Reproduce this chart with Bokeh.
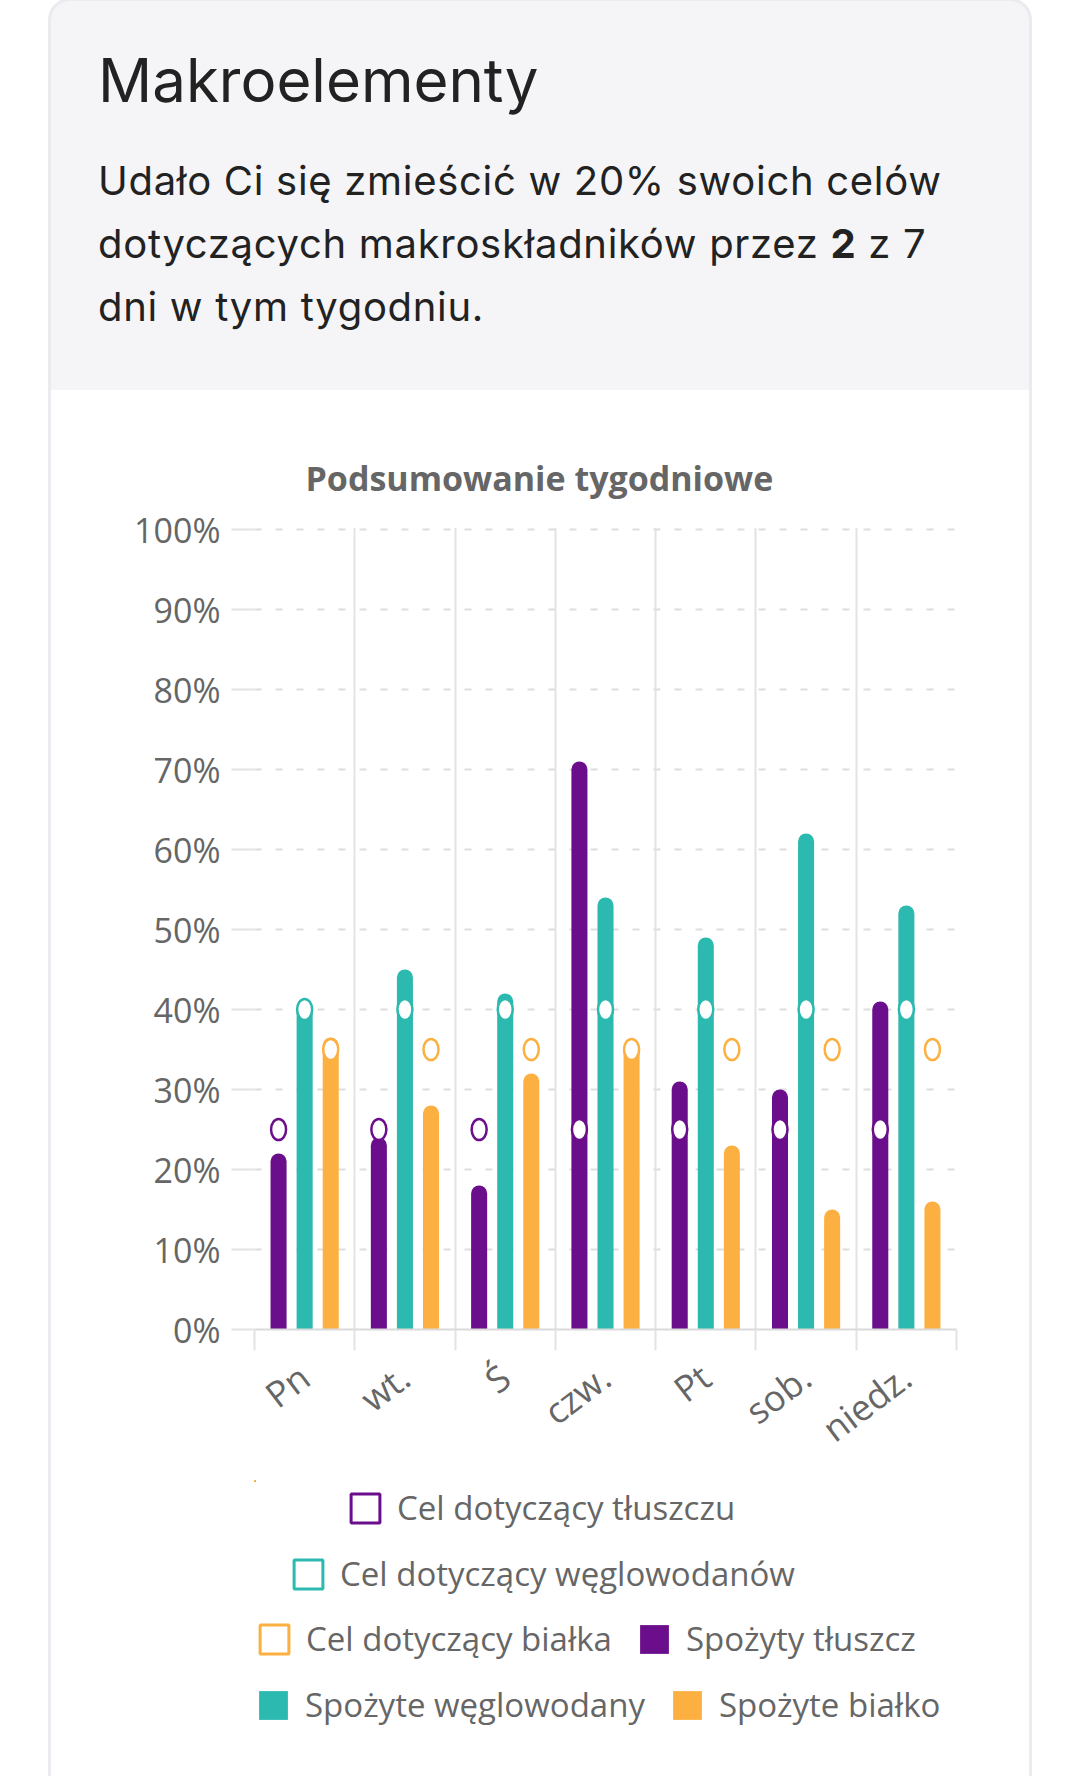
from bokeh.plotting import figure
from bokeh.models import (ColumnDataSource, Range1d, LinearAxis, FixedTicker, Grid,
                          Legend, LegendItem, Title, Div, PrintfTickFormatter)
from bokeh.transform import dodge
from bokeh.layouts import column
from bokeh.embed import file_html
from bokeh.resources import INLINE
from bokeh.core.properties import value

# ---------------- data ----------------
days = ["Pn", "wt.", "Ś", "czw.", "Pt", "sob.", "niedz."]
fat_eaten = [22, 24, 18, 71, 31, 30, 41]
carbs_eaten = [41, 45, 42, 54, 49, 62, 53]
protein_eaten = [36.5, 28, 32, 36, 23, 15, 16]
fat_goal = [25, 25, 25, 25, 25, 25, 25]
carbs_goal = [40, 40, 40, 40, 40, 40, 40]
protein_goal = [35, 35, 35, 35, 35, 35, 35]
y_ticks = [0, 10, 20, 30, 40, 50, 60, 70, 80, 90, 100]

header_title = "Makroelementy"
header_lines = ["Udało Ci się zmieścić w 20% swoich celów",
                "dotyczących makroskładników przez ", "2", " z 7",
                "dni w tym tygodniu."]
chart_title = "Podsumowanie tygodniowe"
legend_labels = ["Cel dotyczący tłuszczu", "Cel dotyczący węglowodanów",
                 "Cel dotyczący białka", "Spożyty tłuszcz",
                 "Spożyte węglowodany", "Spożyte białko"]

# ---------------- style ----------------
PURPLE = "#6B0E8B"
TEAL = "#2CB9AF"
ORANGE = "#FCB041"
GRID = "#E3E3E3"
TXT = "#666666"
FONT = "Open Sans"
CARD = "#EBEBEF"
SHADOW = {"box-shadow": f"-3px 0 0 0 {CARD}, 3px 0 0 0 {CARD}"}

# ---------------- header ----------------
header_html = (
    '<div style="position:absolute; left:48px; top:-2px; width:984px; height:392px;'
    f' box-sizing:border-box; background:#F5F5F7; border:3px solid {CARD}; border-bottom:none;'
    ' border-radius:22px 22px 0 0; font-family:Inter, sans-serif; color:#222;">'
    f'<div style="position:absolute; left:47px; top:49px; font-size:60px; line-height:60px; white-space:nowrap;">{header_title}</div>'
    '<div style="position:absolute; left:47px; top:148px; font-size:40px; line-height:63px; letter-spacing:0.7px; white-space:nowrap;">'
    f'{header_lines[0]}<br>{header_lines[1]}<b>{header_lines[2]}</b>{header_lines[3]}<br>{header_lines[4]}</div>'
    '</div>'
)
div = Div(text=header_html, width=1080, height=390, margin=0)

# ---------------- chart ----------------
n = len(days)
centers = [i + 0.5 for i in range(n)]
edges = list(range(n + 1))
src = ColumnDataSource(dict(pos=centers, fat=fat_eaten, carbs=carbs_eaten, protein=protein_eaten,
                            fat_goal=fat_goal, carbs_goal=carbs_goal, protein_goal=protein_goal))

p = figure(x_range=Range1d(0, n), y_range=Range1d(0, 100.25), width=978, height=1090,
           output_backend="svg", toolbar_location=None, x_axis_location=None,
           min_border_left=203, min_border_right=73, min_border_top=137, min_border_bottom=151)
p.margin = (0, 0, 0, 51)
p.styles = SHADOW
p.background_fill_color = "white"
p.border_fill_color = "white"
p.outline_line_color = None
p.xgrid.visible = False

p.add_layout(Title(text=chart_title, align="left", offset=51, standoff=53,
                   text_font=FONT, text_font_size="34px", text_font_style="bold",
                   text_color=TXT), "above")

# y axis
yax = p.yaxis[0]
yax.ticker = FixedTicker(ticks=y_ticks)
yax.formatter = PrintfTickFormatter(format="%d%%")
yax.axis_line_color = None
yax.major_tick_in = 0
yax.major_tick_out = 23
yax.major_tick_line_color = GRID
yax.major_tick_line_width = 2
yax.minor_tick_line_color = None
yax.major_label_standoff = 11
yax.major_label_text_font = FONT
yax.major_label_text_font_size = "34px"
yax.major_label_text_color = TXT
p.ygrid.ticker = yax.ticker
p.ygrid.grid_line_color = "#DDDDDD"
p.ygrid.grid_line_width = 2
p.ygrid.grid_line_dash = "7 14"

# x axis: day labels at centres, boundary ticks as minor ticks
day_axis = LinearAxis(ticker=FixedTicker(ticks=centers, minor_ticks=edges),
                      major_label_overrides={c: d for c, d in zip(centers, days)},
                      major_label_orientation=0.65,
                      major_tick_line_color=None, major_tick_in=0, major_tick_out=21,
                      minor_tick_line_color=GRID, minor_tick_line_width=2,
                      minor_tick_in=0, minor_tick_out=21,
                      axis_line_color="#DADADA", axis_line_width=2,
                      major_label_standoff=22,
                      major_label_text_font=FONT, major_label_text_font_size="36px",
                      major_label_text_color=TXT)
p.add_layout(day_axis, "below")
p.add_layout(Grid(dimension=0, ticker=FixedTicker(ticks=edges),
                  grid_line_color=GRID, grid_line_width=2))

# bars
OFF = 0.26
BW = 0.16
p.vbar(x=dodge("pos", -OFF), top="fat", bottom=0, width=BW, source=src,
       fill_color=PURPLE, line_color=None, border_radius=(8, 8, 0, 0))
p.vbar(x=dodge("pos", 0), top="carbs", bottom=0, width=BW, source=src,
       fill_color=TEAL, line_color=None, border_radius=(8, 8, 0, 0))
p.vbar(x=dodge("pos", OFF), top="protein", bottom=0, width=BW, source=src,
       fill_color=ORANGE, line_color=None, border_radius=(8, 8, 0, 0))

# goal markers
for off, col, c in [(-OFF, "fat_goal", PURPLE), (0, "carbs_goal", TEAL), (OFF, "protein_goal", ORANGE)]:
    p.ellipse(x=dodge("pos", off), y=col, width=15, height=21,
              width_units="screen", height_units="screen", source=src,
              fill_color="white", line_color=c, line_width=2.5)

# ---------------- legend (own figure below the chart) ----------------
# ranges chosen so the swatch series lie far outside the visible area
lf = figure(x_range=Range1d(1000, 1000 + n), y_range=Range1d(-2000, -1999), width=978, height=296,
            output_backend="svg", toolbar_location=None,
            x_axis_location=None, y_axis_location=None,
            min_border_left=203, min_border_right=73, min_border_top=0, min_border_bottom=0)
lf.margin = (0, 0, 0, 51)
lf.styles = SHADOW
lf.grid.visible = False
lf.outline_line_color = None
lf.background_fill_color = "white"
lf.border_fill_color = "white"

l_fat = lf.vbar(x=dodge("pos", -OFF), top="fat", bottom=0, width=BW, source=src,
                fill_color=PURPLE, line_color=None)
l_carb = lf.vbar(x=dodge("pos", 0), top="carbs", bottom=0, width=BW, source=src,
                 fill_color=TEAL, line_color=None)
l_prot = lf.vbar(x=dodge("pos", OFF), top="protein", bottom=0, width=BW, source=src,
                 fill_color=ORANGE, line_color=None)
lg_fat = lf.vbar(x=dodge("pos", -OFF), top="fat_goal", bottom=0, width=BW, source=src,
                 fill_color="white", line_color=PURPLE, line_width=3)
lg_carb = lf.vbar(x=dodge("pos", 0), top="carbs_goal", bottom=0, width=BW, source=src,
                  fill_color="white", line_color=TEAL, line_width=3)
lg_prot = lf.vbar(x=dodge("pos", OFF), top="protein_goal", bottom=0, width=BW, source=src,
                  fill_color="white", line_color=ORANGE, line_width=3)

rows = [
    ([(legend_labels[0], lg_fat)], 93, 246),
    ([(legend_labels[1], lg_carb)], 36, 180),
    ([(legend_labels[2], lg_prot), (legend_labels[3], l_fat)], 2, 115),
    ([(legend_labels[4], l_carb), (legend_labels[5], l_prot)], 1, 49),
]
for items, lx, ly in rows:
    leg = Legend(items=[LegendItem(label=value(t), renderers=[r]) for t, r in items],
                 orientation="horizontal", location=(lx, ly), border_line_color=None,
                 background_fill_alpha=0, glyph_width=36, glyph_height=36,
                 label_text_font=FONT, label_text_font_size="33px", label_text_color=TXT,
                 label_standoff=14, spacing=24, padding=0, margin=0)
    lf.add_layout(leg)

layout = column(div, p, lf, spacing=0)
open("out.html", "w").write(file_html(layout, INLINE))
